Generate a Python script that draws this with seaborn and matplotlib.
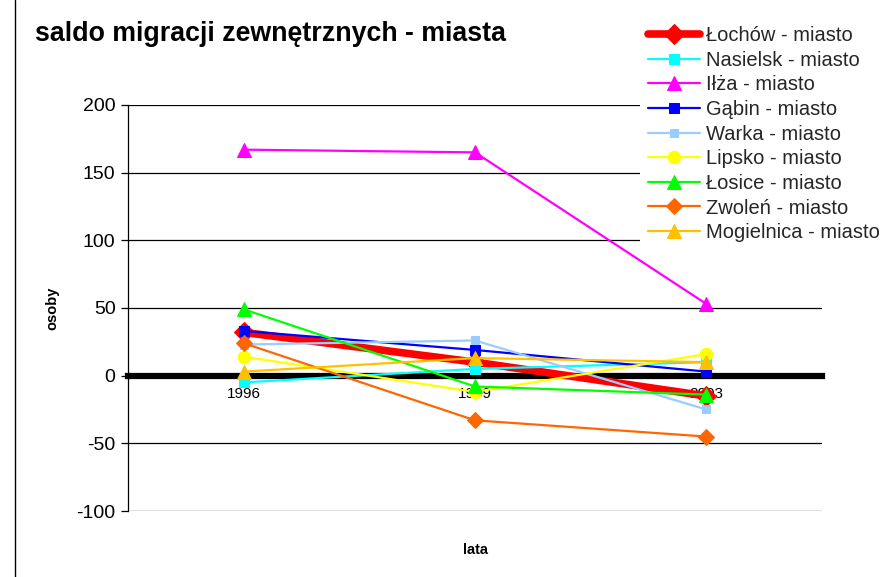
import matplotlib
matplotlib.use("Agg")
import matplotlib.pyplot as plt
import seaborn as sns
from matplotlib.lines import Line2D

sns.set_theme(style="white")
plt.rcParams["font.family"] = ["Liberation Sans", "DejaVu Sans"]
plt.rcParams["axes.unicode_minus"] = False

years = ["1996", "1999", "2003"]

lochow = [32, 10, -15]
nasielsk = [-5, 5, 10]
ilza = [167, 165, 53]
gabin = [33, 19, 3]
warka = [23, 26, -25]
lipsko = [14, -12, 16]
losice = [49, -8, -14]
zwolen = [24, -33, -45]
mogielnica = [3, 13, 10]

names = ["Łochów - miasto", "Nasielsk - miasto", "Iłża - miasto", "Gąbin - miasto",
         "Warka - miasto", "Lipsko - miasto", "Łosice - miasto", "Zwoleń - miasto",
         "Mogielnica - miasto"]
series = [lochow, nasielsk, ilza, gabin, warka, lipsko, losice, zwolen, mogielnica]
colors = ["#FF0000", "#00FFFF", "#FF00FF", "#0000FF", "#99CCFF",
          "#FFFF00", "#00FF00", "#FF6600", "#FFC000"]
markers = ["D", "s", "^", "s", "s", "o", "^", "D", "^"]
msizes = [10, 7.5, 9.5, 7.5, 6, 9, 9.5, 8, 9.5]
lwidths = [5.5, 1.6, 1.6, 1.6, 1.6, 1.6, 1.6, 1.6, 1.6]

fig = plt.figure(figsize=(8.84, 5.77), dpi=100)
ax = fig.add_axes([128 / 884, 1 - 511 / 577, 694 / 884, 406 / 577])

for name, vals, c, m, ms, lw in zip(names, series, colors, markers, msizes, lwidths):
    sns.lineplot(x=years, y=vals, color=c, marker=m, markersize=ms, linewidth=lw,
                 markeredgecolor=c, label=name, ax=ax, zorder=3)

ax.set_xlim(-0.5, 2.5)
ax.set_ylim(-100, 200)
ax.set_yticks(range(-100, 201, 50))
ax.yaxis.grid(True, color="black", linewidth=0.9)
ax.xaxis.grid(False)
ax.set_axisbelow(True)

for s in ["top", "right"]:
    ax.spines[s].set_visible(False)
ax.spines["left"].set_color("black")
ax.spines["left"].set_linewidth(0.9)
ax.spines["bottom"].set_position(("data", 0))
ax.spines["bottom"].set_color("black")
ax.spines["bottom"].set_linewidth(4.5)
ax.spines["bottom"].set_zorder(2)

ax.tick_params(axis="y", left=True, length=5, width=0.9, color="black",
               labelsize=14, pad=4, labelcolor="black")
ax.tick_params(axis="x", bottom=False, length=0, labelsize=11, pad=8,
               labelcolor="black")

ax.set_xlabel("lata", fontsize=10.5, fontweight="bold", color="black")
ax.xaxis.set_label_coords(0.5, -(543 - 511) / 406)
ax.set_ylabel("osoby", fontsize=10.5, fontweight="bold", color="black", va="center")
ax.yaxis.set_label_coords((52 - 128) / 694, 0.5)

fig.text(35 / 884, 1 - 34 / 577, "saldo migracji zewnętrznych - miasta",
         fontsize=19.3, fontweight="bold", va="center", ha="left", color="black")

# legend sits on a white box that covers the upper right of the grid
ax.get_legend().remove()
handles, labels = ax.get_legend_handles_labels()
leg = fig.legend(handles, labels, loc="upper left", bbox_to_anchor=(640 / 884, 1 - 18 / 577),
                 frameon=True, facecolor="white", edgecolor="none", framealpha=1,
                 fontsize=14.5, handlelength=2.6, handletextpad=0.3,
                 labelspacing=0.28, borderaxespad=0, borderpad=0.4)
leg.get_frame().set_boxstyle("square", pad=0)

fig.add_artist(Line2D([15 / 884, 15 / 884], [0, 1], color="black", linewidth=1))

fig.savefig("out.png", dpi=100)
